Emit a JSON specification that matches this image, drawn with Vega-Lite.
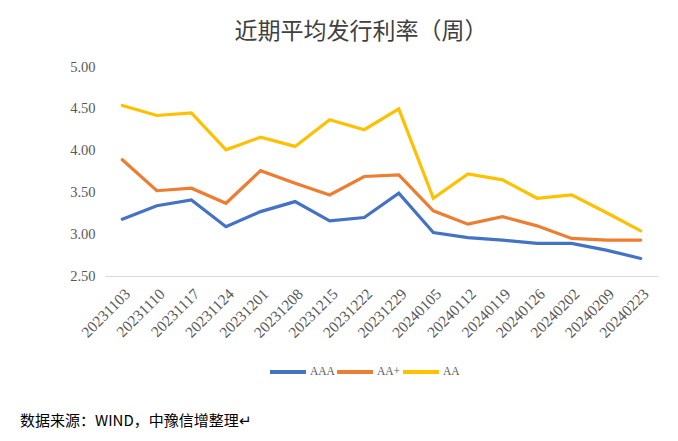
{
  "$schema": "https://vega.github.io/schema/vega-lite/v6.json",
  "background": "white",
  "padding": {"left": 20, "top": 21, "right": 20, "bottom": 5},
  "title": {"text": "近期平均发行利率（周）", "font": "Noto Sans CJK SC", "fontSize": 23, "fontWeight": "normal", "color": "#404040", "anchor": "middle", "offset": 15, "dx": 22},
  "vconcat": [
    {
      "width": 553,
      "height": 209,
      "title": {"text": "数据来源：WIND，中豫信增整理↵", "orient": "bottom", "anchor": "start", "frame": "group", "font": "Noto Sans CJK SC", "fontSize": 15, "fontWeight": "normal", "color": "#000000", "offset": 73, "dx": -85},
      "data": {"values": [
        {"date": "20231103", "rating": "AAA", "rate": 3.18},
        {"date": "20231110", "rating": "AAA", "rate": 3.34},
        {"date": "20231117", "rating": "AAA", "rate": 3.41},
        {"date": "20231124", "rating": "AAA", "rate": 3.09},
        {"date": "20231201", "rating": "AAA", "rate": 3.27},
        {"date": "20231208", "rating": "AAA", "rate": 3.39},
        {"date": "20231215", "rating": "AAA", "rate": 3.16},
        {"date": "20231222", "rating": "AAA", "rate": 3.20},
        {"date": "20231229", "rating": "AAA", "rate": 3.49},
        {"date": "20240105", "rating": "AAA", "rate": 3.02},
        {"date": "20240112", "rating": "AAA", "rate": 2.96},
        {"date": "20240119", "rating": "AAA", "rate": 2.93},
        {"date": "20240126", "rating": "AAA", "rate": 2.89},
        {"date": "20240202", "rating": "AAA", "rate": 2.89},
        {"date": "20240209", "rating": "AAA", "rate": 2.81},
        {"date": "20240223", "rating": "AAA", "rate": 2.71},
        {"date": "20231103", "rating": "AA+", "rate": 3.89},
        {"date": "20231110", "rating": "AA+", "rate": 3.52},
        {"date": "20231117", "rating": "AA+", "rate": 3.55},
        {"date": "20231124", "rating": "AA+", "rate": 3.37},
        {"date": "20231201", "rating": "AA+", "rate": 3.76},
        {"date": "20231208", "rating": "AA+", "rate": 3.61},
        {"date": "20231215", "rating": "AA+", "rate": 3.47},
        {"date": "20231222", "rating": "AA+", "rate": 3.69},
        {"date": "20231229", "rating": "AA+", "rate": 3.71},
        {"date": "20240105", "rating": "AA+", "rate": 3.28},
        {"date": "20240112", "rating": "AA+", "rate": 3.12},
        {"date": "20240119", "rating": "AA+", "rate": 3.21},
        {"date": "20240126", "rating": "AA+", "rate": 3.10},
        {"date": "20240202", "rating": "AA+", "rate": 2.95},
        {"date": "20240209", "rating": "AA+", "rate": 2.93},
        {"date": "20240223", "rating": "AA+", "rate": 2.93},
        {"date": "20231103", "rating": "AA", "rate": 4.54},
        {"date": "20231110", "rating": "AA", "rate": 4.42},
        {"date": "20231117", "rating": "AA", "rate": 4.45},
        {"date": "20231124", "rating": "AA", "rate": 4.01},
        {"date": "20231201", "rating": "AA", "rate": 4.16},
        {"date": "20231208", "rating": "AA", "rate": 4.05},
        {"date": "20231215", "rating": "AA", "rate": 4.37},
        {"date": "20231222", "rating": "AA", "rate": 4.25},
        {"date": "20231229", "rating": "AA", "rate": 4.50},
        {"date": "20240105", "rating": "AA", "rate": 3.43},
        {"date": "20240112", "rating": "AA", "rate": 3.72},
        {"date": "20240119", "rating": "AA", "rate": 3.65},
        {"date": "20240126", "rating": "AA", "rate": 3.43},
        {"date": "20240202", "rating": "AA", "rate": 3.47},
        {"date": "20240209", "rating": "AA", "rate": 3.26},
        {"date": "20240223", "rating": "AA", "rate": 3.04}
      ]},
      "mark": {"type": "line", "strokeWidth": 3.2, "strokeCap": "round", "strokeJoin": "miter"},
      "encoding": {
        "x": {"field": "date", "type": "nominal", "sort": null, "title": null,
              "scale": {"paddingInner": 0, "paddingOuter": 0.5},
              "axis": {"labelAngle": -45, "labelFont": "Liberation Serif", "labelFontSize": 15.5, "labelColor": "#595959", "ticks": false, "domainColor": "#d9d9d9", "domainWidth": 1, "labelPadding": 10, "grid": false}},
        "y": {"field": "rate", "type": "quantitative", "title": null,
              "scale": {"domain": [2.5, 5], "nice": false, "zero": false},
              "axis": {"values": [2.5, 3, 3.5, 4, 4.5, 5], "format": ".2f", "labelFont": "Liberation Serif", "labelFontSize": 14.5, "labelColor": "#595959", "ticks": false, "domain": false, "grid": false, "labelPadding": 10}},
        "color": {"field": "rating", "type": "nominal", "title": null,
                  "scale": {"domain": ["AAA", "AA+", "AA"], "range": ["#4472C4", "#ED7D31", "#FFC000"]},
                  "legend": {"orient": "none", "legendX": 163, "legendY": 285, "direction": "horizontal", "symbolType": "stroke", "symbolStrokeWidth": 4, "symbolSize": 1296, "labelFont": "Liberation Sans Narrow", "labelFontSize": 11.5, "labelColor": "#595959", "columnPadding": -9, "labelOffset": 2}}
      }
    }
  ],
  "config": {"view": {"stroke": null}}
}
